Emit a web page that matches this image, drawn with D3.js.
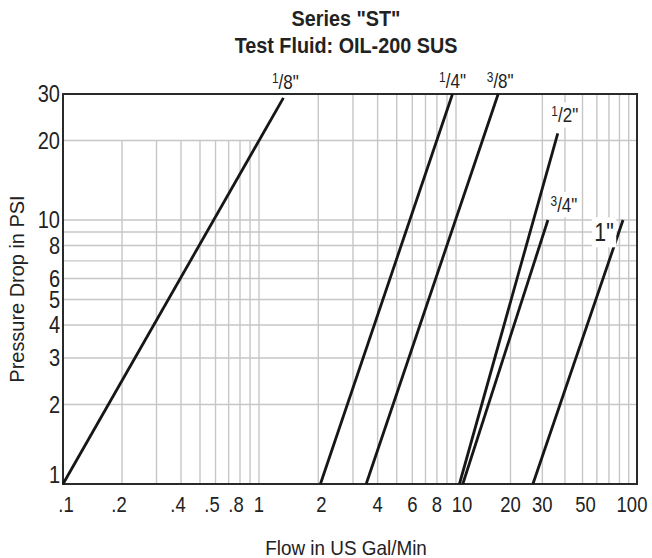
<!DOCTYPE html>
<html>
<head>
<meta charset="utf-8">
<script src="https://cdn.jsdelivr.net/npm/d3@7"></script>
<style>
  html, body { margin: 0; padding: 0; background: #fff; }
  svg { display: block; }
  text { font-family: "Liberation Sans", Arial, Helvetica, sans-serif; fill: #222; }
</style>
</head>
<body>
<svg id="chart" width="652" height="558"></svg>
<script>
// Pressure drop vs. flow, one straight log-log line per port size
const sizes      = ['1/8"', '1/4"', '3/8"', '1/2"', '3/4"', '1"'];
const flowStart  = [0.1, 2.05, 3.5, 10.45, 10.9, 26.6];
const flowEnd    = [1.33, 9.6, 17.1, 36.5, 32.2, 83.7];
const psiStart   = [1, 1, 1, 1, 1, 1];
const psiEnd     = [29, 30, 30, 21.3, 10, 10];

// Axis tick labels
const xTicks = [0.1, 0.2, 0.4, 0.5, 0.8, 1, 2, 4, 6, 8, 10, 20, 30, 50, 100];
const xTickLabels = [".1", ".2", ".4", ".5", ".8", "1", "2", "4", "6", "8", "10", "20", "30", "50", "100"];
const yTicks = [1, 2, 3, 4, 5, 6, 8, 10, 20, 30];
const yTickLabels = ["1", "2", "3", "4", "5", "6", "8", "10", "20", "30"];

// Grid lines (vertical lines come in three heights)
const gridXTo20  = [0.2, 0.3, 0.4, 0.5, 0.6, 0.7, 0.8, 0.9, 1];
const gridXFull  = [2, 3, 4, 5, 6, 7, 8, 9, 10, 30, 40, 50, 60, 70, 80, 90];
const gridXTo10  = [20];
const gridY      = [2, 3, 4, 5, 6, 7, 8, 9, 10, 20];

const svg = d3.select("#chart");
const L = 63, R = 637, T = 94, B = 484;

// log scale; the last decade is drawn a little narrower than the first two
const x = d3.scaleLog().domain([0.1, 1, 10, 100]).range([L, 259, 456, R]);
const y = d3.scaleLog().domain([1, 30]).range([B, T]);

// condensed text: a regular face squeezed horizontally
function ntext(parent, px, py, sx, size) {
  const g = parent.append("g").attr("transform", `translate(${px},${py}) scale(${sx},1)`);
  const t = g.append("text").attr("x", 0).attr("y", 0).attr("font-size", size);
  return t;
}

const grid = svg.append("g").attr("stroke", "#c6c6c6").attr("stroke-width", 1.4);

grid.append("g").selectAll("line").data(gridY).join("line")
  .attr("x1", L).attr("x2", R)
  .attr("y1", d => y(d)).attr("y2", d => y(d));

function vGrid(vals, top) {
  grid.append("g").selectAll("line").data(vals).join("line")
    .attr("x1", d => x(d)).attr("x2", d => x(d))
    .attr("y1", B).attr("y2", y(top));
}
vGrid(gridXTo20, 20);
vGrid(gridXFull, 30);
vGrid(gridXTo10, 10);

// frame
svg.append("rect")
  .attr("x", L).attr("y", T).attr("width", R - L).attr("height", B - T)
  .attr("fill", "none").attr("stroke", "#2a2a2a").attr("stroke-width", 2);

// series lines
const series = sizes.map((s, i) => ({
  name: s,
  pts: [[flowStart[i], psiStart[i]], [flowEnd[i], psiEnd[i]]]
}));
const line = d3.line().x(d => x(d[0])).y(d => y(d[1]));

svg.append("g").selectAll("path").data(series).join("path")
  .attr("d", d => line(d.pts))
  .attr("fill", "none").attr("stroke", "#161616").attr("stroke-width", 2.8);

// size labels, placed relative to the upper end of each line
const labelPlace = [
  { dx: 2,   dy: -9,  box: false },
  { dx: 0,   dy: -6,  box: false },
  { dx: 2,   dy: -6,  box: false },
  { dx: 7,   dy: -11, box: true  },
  { dx: 16,  dy: -8,  box: true  },
  { dx: -19, dy: 21,  box: true  }
];

const labels = svg.append("g");
series.forEach((s, i) => {
  const p = labelPlace[i];
  const ex = x(flowEnd[i]), ey = y(psiEnd[i]);
  const parts = s.name.split("/");
  const t = ntext(labels, ex + p.dx, ey + p.dy, 0.85, 20).attr("text-anchor", "middle");
  if (parts.length === 2) {
    t.append("tspan").attr("font-size", 14).attr("dy", -6).text(parts[0]);
    t.append("tspan").attr("font-size", 20).attr("dy", 6).text("/" + parts[1]);
  } else {
    t.attr("font-size", 25).text(s.name);
  }
  if (p.box) {
    const bb = t.node().getBBox();
    d3.select(t.node().parentNode).insert("rect", "text")
      .attr("x", bb.x - 3).attr("y", bb.y - 1)
      .attr("width", bb.width + 6).attr("height", bb.height + 2)
      .attr("fill", "#fff");
  }
});

// x tick labels, with small shifts where neighbouring labels crowd
const xNudge = { ".1": 3, ".2": -3, ".4": -3, ".5": 12, ".8": -4, "2": 3, "10": 6, "50": 3, "100": -5 };
const xAxis = svg.append("g");
xTicks.forEach((v, i) => {
  const lab = xTickLabels[i];
  ntext(xAxis, x(v) + (xNudge[lab] || 0), 512, 0.84, 22)
    .attr("text-anchor", "middle").text(lab);
});

// y tick labels; the bottom one sits just above the axis
const yAxis = svg.append("g");
yTicks.forEach((v, i) => {
  ntext(yAxis, 60, v === 1 ? y(v) - 9 : y(v), 0.87, 23)
    .attr("dy", "0.36em").attr("text-anchor", "end").text(yTickLabels[i]);
});

// titles
ntext(svg, 346, 26, 0.9, 22).attr("text-anchor", "middle")
  .attr("font-weight", "bold").text('Series "ST"');
ntext(svg, 346, 53, 0.9, 22).attr("text-anchor", "middle")
  .attr("font-weight", "bold").text("Test Fluid: OIL-200 SUS");
ntext(svg, 346, 555, 0.9, 21).attr("text-anchor", "middle")
  .text("Flow in US Gal/Min");
svg.append("g").attr("transform", "translate(24,289) rotate(-90) scale(0.95,1)")
  .append("text").attr("text-anchor", "middle").attr("font-size", 21)
  .text("Pressure Drop in PSI");
</script>
</body>
</html>
